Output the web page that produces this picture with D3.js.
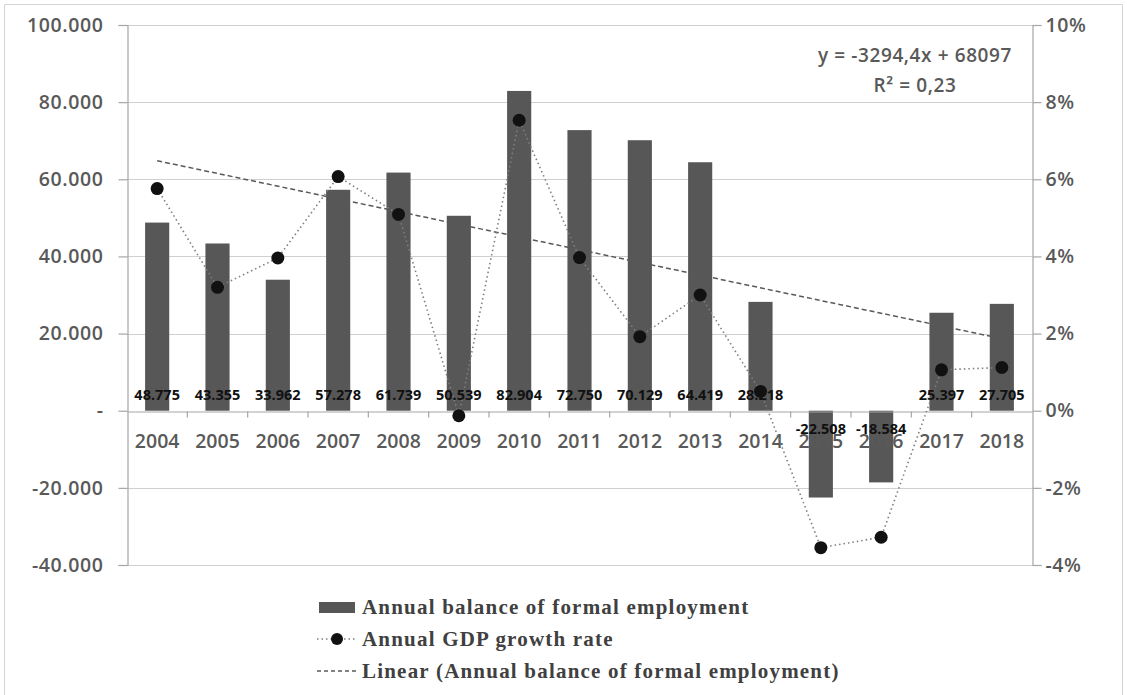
<!DOCTYPE html>
<html>
<head>
<meta charset="utf-8">
<script src="https://cdn.jsdelivr.net/npm/d3@7"></script>
<style>
  html, body { margin: 0; padding: 0; background: #ffffff; }
  svg { display: block; }
</style>
</head>
<body>
<svg id="chart" width="1127" height="695"></svg>
<script>
// Years on the category axis
const years = ["2004","2005","2006","2007","2008","2009","2010","2011","2012","2013","2014","2015","2016","2017","2018"];
// Annual balance of formal employment (jobs)
const employmentBalance = [48775, 43355, 33962, 57278, 61739, 50539, 82904, 72750, 70129, 64419, 28218, -22508, -18584, 25397, 27705];
// Annual GDP growth rate
const gdpGrowth = [0.0576, 0.0320, 0.0396, 0.0607, 0.0509, -0.0013, 0.0753, 0.0397, 0.0192, 0.0300, 0.0050, -0.0355, -0.0328, 0.0106, 0.0112];
// Linear trend of the employment balance (x = 1 for the first year)
const trendSlope = -3294.4;
const trendIntercept = 68097;
const trendR2 = 0.23;
// Axis ticks
const leftTicks = [-40000, -20000, 0, 20000, 40000, 60000, 80000, 100000];
const rightTicks = [-0.04, -0.02, 0, 0.02, 0.04, 0.06, 0.08, 0.10];
// Legend entries
const legendLabels = ["Annual balance of formal employment", "Annual GDP growth rate", "Linear (Annual balance of formal employment)"];

const svg = d3.select("#chart");
const W = 1127, H = 695;
const plot = { left: 127, right: 1032, top: 25, bottom: 565 };

const barColor = "#575757";
const gridColor = "#d0d0d0";
const axisColor = "#a6a6a6";
const labelColor = "#595959";
const axisFont = "'Open Sans', sans-serif";

// frame around the chart area
svg.append("path")
  .attr("d", `M4.5,${H} V4.5 H1122.5 V${H}`)
  .attr("fill", "none").attr("stroke", "#d4d4d4").attr("stroke-width", 1);

const x = d3.scaleBand().domain(years).range([plot.left, plot.right]).paddingInner(0.6).paddingOuter(0.3);
const band = (plot.right - plot.left) / years.length;
const yL = d3.scaleLinear().domain([-40000, 100000]).range([plot.bottom, plot.top]);
const yR = d3.scaleLinear().domain([-0.04, 0.10]).range([plot.bottom, plot.top]);
const cx = d => plot.left + band * (years.indexOf(d) + 0.5);

const locale = d3.formatLocale({ decimal: ",", thousands: ".", grouping: [3], currency: ["", ""], minus: "-" });
const fmtThousands = locale.format(",.0f");
const fmtLeft = v => v === 0 ? "-" : fmtThousands(v);
const fmtRight = v => Math.round(v * 100) + "%";

// gridlines
svg.append("g").selectAll("line").data(leftTicks.filter(t => t !== 0)).join("line")
  .attr("x1", plot.left).attr("x2", plot.right)
  .attr("y1", d => Math.round(yL(d)) + 0.5).attr("y2", d => Math.round(yL(d)) + 0.5)
  .attr("stroke", gridColor).attr("stroke-width", 1.2);

// left value axis
const leftAxis = svg.append("g").attr("transform", `translate(${plot.left + 0.5},0)`)
  .call(d3.axisLeft(yL).tickValues(leftTicks).tickFormat(fmtLeft).tickSize(9).tickPadding(15));
// right percentage axis
const rightAxis = svg.append("g").attr("transform", `translate(${plot.right + 0.5},0)`)
  .call(d3.axisRight(yR).tickValues(rightTicks).tickFormat(fmtRight).tickSize(9).tickPadding(4));
[leftAxis, rightAxis].forEach(g => {
  g.select(".domain").attr("stroke", axisColor).attr("stroke-width", 1.2);
  g.selectAll(".tick line").attr("stroke", axisColor).attr("stroke-width", 1.2);
  g.selectAll(".tick text").attr("fill", labelColor).attr("font-family", axisFont)
    .attr("font-size", 19.5).attr("font-weight", 600).attr("letter-spacing", "0.6px");
});

// bars
svg.append("g").selectAll("rect").data(years).join("rect")
  .attr("x", d => x(d))
  .attr("width", x.bandwidth())
  .attr("y", (d, i) => yL(Math.max(0, employmentBalance[i])))
  .attr("height", (d, i) => Math.abs(yL(employmentBalance[i]) - yL(0)))
  .attr("fill", barColor);

// category axis at zero
const catAxis = svg.append("g").attr("transform", `translate(0,${Math.round(yL(0)) + 0.5})`)
  .call(d3.axisBottom(x).tickSize(0).tickPadding(23));
catAxis.select(".domain").attr("stroke", axisColor).attr("stroke-width", 1.2);
catAxis.selectAll(".tick text").attr("fill", labelColor).attr("font-family", axisFont)
  .attr("font-size", 19.5).attr("font-weight", 600);
catAxis.selectAll(".tick").attr("transform", d => `translate(${cx(d)},0)`);
// small ticks between categories
catAxis.append("g").selectAll("line").data(d3.range(1, years.length)).join("line")
  .attr("x1", i => plot.left + i * band).attr("x2", i => plot.left + i * band)
  .attr("y1", 0).attr("y2", 6).attr("stroke", axisColor).attr("stroke-width", 1.2);

// trend line from the fitted equation
const trendPts = years.map((d, i) => [cx(d), yL(trendSlope * (i + 1) + trendIntercept)]);
svg.append("path")
  .attr("d", d3.line()([trendPts[0], trendPts[trendPts.length - 1]]))
  .attr("fill", "none").attr("stroke", "#595959").attr("stroke-width", 1.5)
  .attr("stroke-dasharray", "5,3");

// GDP growth line and markers
svg.append("path")
  .datum(gdpGrowth)
  .attr("d", d3.line().x((d, i) => cx(years[i])).y(d => yR(d)))
  .attr("fill", "none").attr("stroke", "#7f7f7f").attr("stroke-width", 1.6)
  .attr("stroke-dasharray", "1.5,3");
svg.append("g").selectAll("circle").data(gdpGrowth).join("circle")
  .attr("cx", (d, i) => cx(years[i])).attr("cy", d => yR(d)).attr("r", 6.5)
  .attr("fill", "#111111");

// data labels at the base of each bar
svg.append("g").selectAll("text").data(employmentBalance).join("text")
  .attr("x", (d, i) => cx(years[i]))
  .attr("y", d => d >= 0 ? yL(0) - 16 : yL(0) + 18)
  .attr("dy", "0.35em")
  .attr("text-anchor", "middle")
  .attr("font-family", axisFont).attr("font-size", 14.5).attr("font-weight", 700)
  .attr("fill", "#111111")
  .text(d => fmtThousands(d));

// trend equation
const fmtComma = v => String(v).replace(".", ",");
const eq = svg.append("g").attr("font-family", axisFont).attr("font-size", 19)
  .attr("font-weight", 600).attr("fill", labelColor).attr("text-anchor", "middle")
  .attr("letter-spacing", "0.6px");
eq.append("text").attr("x", 915).attr("y", 62)
  .text(`y = ${fmtComma(trendSlope)}x + ${fmtComma(trendIntercept)}`);
eq.append("text").attr("x", 915).attr("y", 92)
  .text(`R² = ${fmtComma(trendR2)}`);

// legend
const legend = svg.append("g").attr("font-family", "'Liberation Serif', 'Times New Roman', serif")
  .attr("font-size", 21).attr("font-weight", 700).attr("fill", "#404040")
  .attr("letter-spacing", "1.2px");
const legY = [607, 639, 671];
legend.append("rect").attr("x", 319).attr("y", legY[0] - 5).attr("width", 36).attr("height", 11).attr("fill", barColor);
legend.append("line").attr("x1", 317).attr("x2", 356).attr("y1", legY[1]).attr("y2", legY[1])
  .attr("stroke", "#7f7f7f").attr("stroke-width", 1.6).attr("stroke-dasharray", "1.5,3");
legend.append("circle").attr("cx", 337).attr("cy", legY[1]).attr("r", 6).attr("fill", "#111111");
legend.append("line").attr("x1", 317).attr("x2", 356).attr("y1", legY[2]).attr("y2", legY[2])
  .attr("stroke", "#595959").attr("stroke-width", 1.5).attr("stroke-dasharray", "4,3");
legend.selectAll("text.leg").data(legendLabels).join("text").attr("class", "leg")
  .attr("x", 362).attr("y", (d, i) => legY[i] + 7).text(d => d);
</script>
</body>
</html>
